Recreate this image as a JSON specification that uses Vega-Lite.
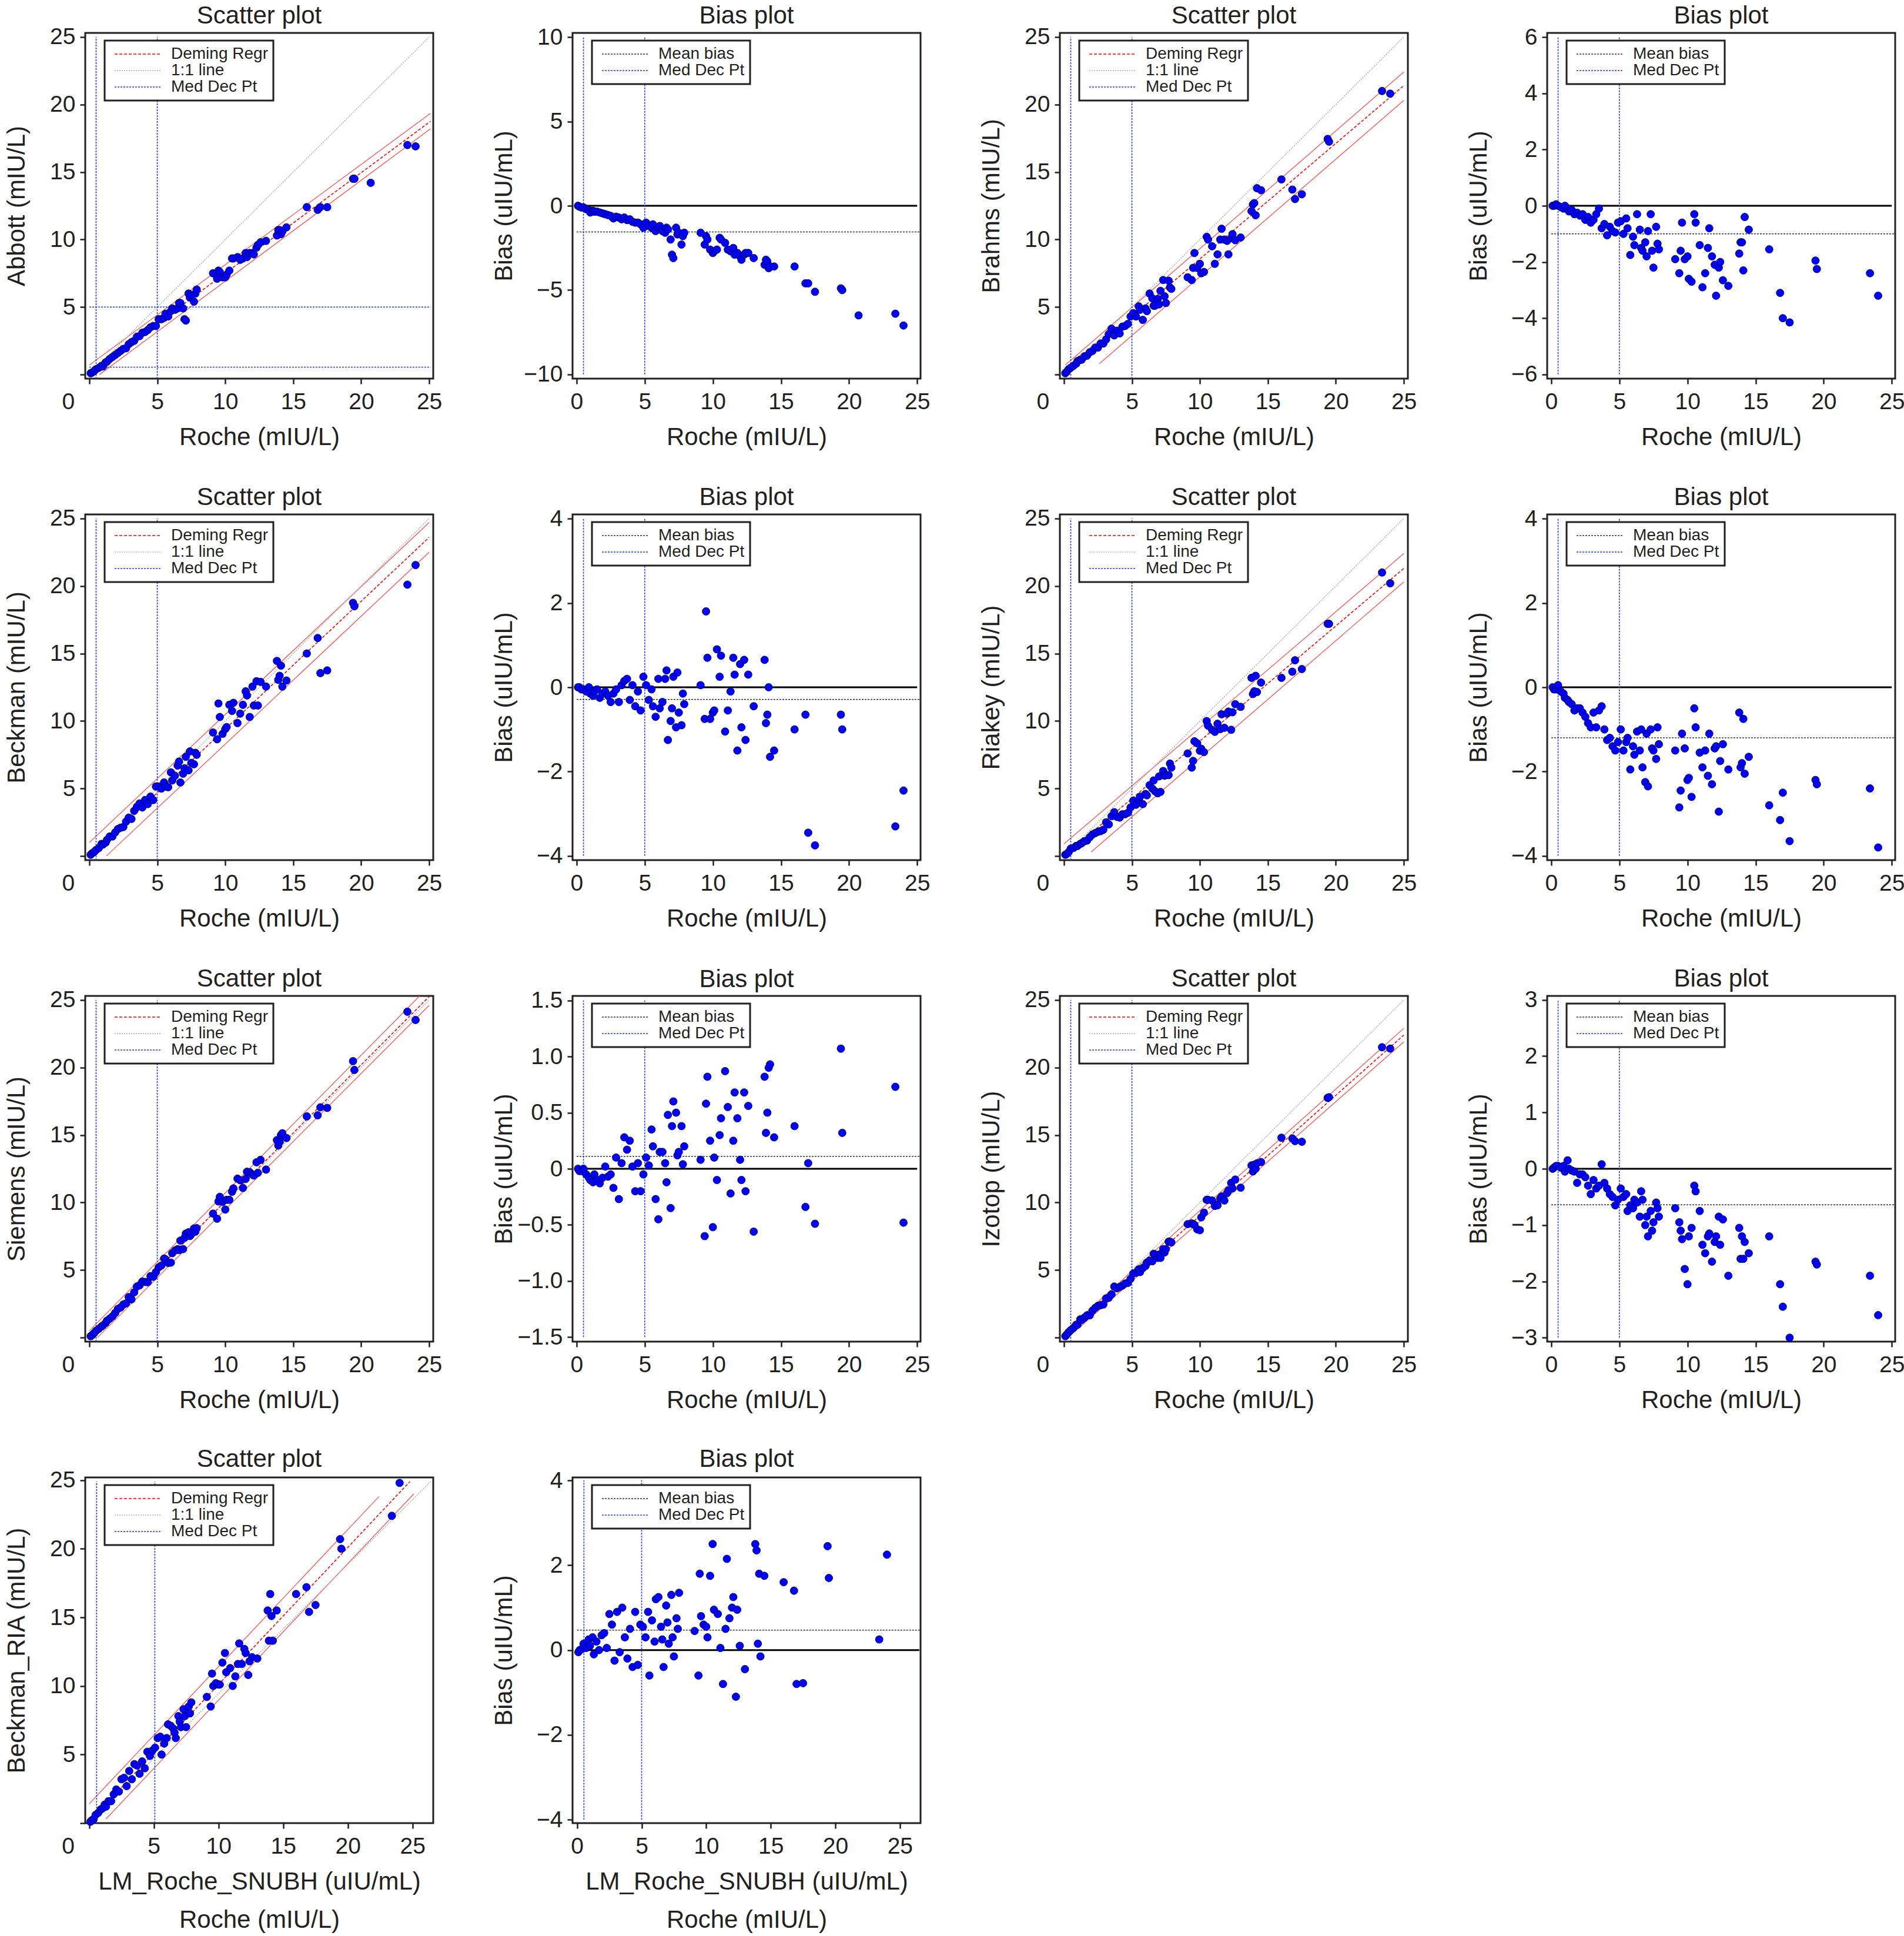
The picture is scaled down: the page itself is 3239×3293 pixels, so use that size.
{
"$schema":"https://vega.github.io/schema/vega-lite/v6.json",
"background":"white",
"padding":{"left":5,"right":5,"top":4,"bottom":5},
"bounds":"flush",
"columns":4,
"spacing":{"row":231,"column":237},
"resolve":{"scale":{"color":"independent","strokeDash":"independent","x":"independent","y":"independent"},"legend":{"color":"independent"}},
"config":{
"font":"Liberation Sans",
"view":{"stroke":"#231f20","strokeWidth":3},
"axis":{"domain":false,"grid":false,"tickColor":"#231f20","tickWidth":2.5,"tickSize":9,"labelFontSize":39,"titleFontSize":42,"titleFontWeight":"normal","labelColor":"#231f20","titleColor":"#231f20","labelFlush":false,"labelOverlap":false,"labelBound":false},
"axisX":{"labelPadding":11,"minExtent":55,"maxExtent":55,"titlePadding":24},
"axisY":{"labelPadding":8,"minExtent":72,"maxExtent":72,"titlePadding":23},
"title":{"fontSize":42,"fontWeight":"normal","offset":-5,"color":"#231f20"},
"legend":{"orient":"none","legendX":33,"legendY":13,"direction":"vertical","strokeColor":"#231f20","strokeWidth":3,"fillColor":"white","padding":9,"labelFontSize":28,"labelLimit":400,"labelColor":"#231f20","symbolType":"M-4,0H4","symbolSize":400,"symbolStrokeWidth":1.5,"symbolDash":[4,2],"symbolOffset":34,"labelOffset":42,"rowPadding":0}
},
"datasets":{
"lines":[
{"p":1,"k":"1:1 line","x":0,"y":0,"x2":25,"y2":25},
{"p":1,"k":"Deming Regr","x":0,"y":0.05,"x2":25.1,"y2":18.75},
{"p":1,"k":"band","x":0,"y":0.7,"x2":25.1,"y2":19.35},
{"p":1,"k":"band","x":0.75,"y":0,"x2":25.1,"y2":18.2},
{"p":1,"k":"Med Dec Pt","x":0.5,"y":-0.3,"x2":0.5,"y2":25},
{"p":1,"k":"Med Dec Pt","x":5,"y":-0.3,"x2":5,"y2":25},
{"p":1,"k":"Med Dec Pt","x":0,"y":5,"x2":25.1,"y2":5},
{"p":1,"k":"Med Dec Pt","x":0,"y":0.55,"x2":25.1,"y2":0.55},
{"p":2,"k":"zero","x":0,"y":0,"x2":25,"y2":0},
{"p":2,"k":"Mean bias","x":0,"y":-1.55,"x2":25.25,"y2":-1.55},
{"p":2,"k":"Med Dec Pt","x":0.5,"y":-10,"x2":0.5,"y2":10},
{"p":2,"k":"Med Dec Pt","x":5,"y":-10,"x2":5,"y2":10},
{"p":3,"k":"1:1 line","x":0,"y":0,"x2":25,"y2":25},
{"p":3,"k":"Deming Regr","x":0,"y":0,"x2":25,"y2":21.4},
{"p":3,"k":"band","x":0.1,"y":0.7,"x2":25,"y2":22.4},
{"p":3,"k":"band","x":2.6,"y":0.8,"x2":25,"y2":20.3},
{"p":3,"k":"Med Dec Pt","x":0.5,"y":-0.3,"x2":0.5,"y2":25},
{"p":3,"k":"Med Dec Pt","x":5,"y":-0.3,"x2":5,"y2":25},
{"p":4,"k":"zero","x":0,"y":0,"x2":25,"y2":0},
{"p":4,"k":"Mean bias","x":0,"y":-1.0,"x2":25.25,"y2":-1.0},
{"p":4,"k":"Med Dec Pt","x":0.5,"y":-6,"x2":0.5,"y2":6},
{"p":4,"k":"Med Dec Pt","x":5,"y":-6,"x2":5,"y2":6},
{"p":5,"k":"1:1 line","x":0,"y":0,"x2":25,"y2":25},
{"p":5,"k":"Deming Regr","x":0,"y":-0.05,"x2":25,"y2":23.6},
{"p":5,"k":"band","x":0,"y":1.0,"x2":25,"y2":24.7},
{"p":5,"k":"band","x":1.25,"y":0,"x2":25,"y2":22.5},
{"p":5,"k":"Med Dec Pt","x":0.5,"y":-0.3,"x2":0.5,"y2":25},
{"p":5,"k":"Med Dec Pt","x":5,"y":-0.3,"x2":5,"y2":25},
{"p":6,"k":"zero","x":0,"y":0,"x2":25,"y2":0},
{"p":6,"k":"Mean bias","x":0,"y":-0.29,"x2":25.25,"y2":-0.29},
{"p":6,"k":"Med Dec Pt","x":0.5,"y":-4,"x2":0.5,"y2":4},
{"p":6,"k":"Med Dec Pt","x":5,"y":-4,"x2":5,"y2":4},
{"p":7,"k":"1:1 line","x":0,"y":0,"x2":25,"y2":25},
{"p":7,"k":"Deming Regr","x":0,"y":0,"x2":25,"y2":21.3},
{"p":7,"k":"band","x":0,"y":0.9,"x2":25,"y2":22.4},
{"p":7,"k":"band","x":2,"y":0.3,"x2":25,"y2":20.3},
{"p":7,"k":"Med Dec Pt","x":0.5,"y":-0.3,"x2":0.5,"y2":25},
{"p":7,"k":"Med Dec Pt","x":5,"y":-0.3,"x2":5,"y2":25},
{"p":8,"k":"zero","x":0,"y":0,"x2":25,"y2":0},
{"p":8,"k":"Mean bias","x":0,"y":-1.2,"x2":25.25,"y2":-1.2},
{"p":8,"k":"Med Dec Pt","x":0.5,"y":-4,"x2":0.5,"y2":4},
{"p":8,"k":"Med Dec Pt","x":5,"y":-4,"x2":5,"y2":4},
{"p":9,"k":"1:1 line","x":0,"y":0,"x2":25,"y2":25},
{"p":9,"k":"Deming Regr","x":0,"y":0,"x2":25,"y2":25.25},
{"p":9,"k":"band","x":0,"y":0.5,"x2":24.3,"y2":25.3},
{"p":9,"k":"band","x":0.6,"y":0,"x2":25,"y2":24.6},
{"p":9,"k":"Med Dec Pt","x":0.5,"y":-0.3,"x2":0.5,"y2":25},
{"p":9,"k":"Med Dec Pt","x":5,"y":-0.3,"x2":5,"y2":25},
{"p":10,"k":"zero","x":0,"y":0,"x2":25,"y2":0},
{"p":10,"k":"Mean bias","x":0,"y":0.11,"x2":25.25,"y2":0.11},
{"p":10,"k":"Med Dec Pt","x":0.5,"y":-1.5,"x2":0.5,"y2":1.5},
{"p":10,"k":"Med Dec Pt","x":5,"y":-1.5,"x2":5,"y2":1.5},
{"p":11,"k":"1:1 line","x":0,"y":0,"x2":25,"y2":25},
{"p":11,"k":"Deming Regr","x":0,"y":0.1,"x2":25,"y2":22.4},
{"p":11,"k":"band","x":0,"y":0.4,"x2":25,"y2":22.9},
{"p":11,"k":"band","x":0.3,"y":0,"x2":25,"y2":21.9},
{"p":11,"k":"Med Dec Pt","x":0.5,"y":-0.3,"x2":0.5,"y2":25},
{"p":11,"k":"Med Dec Pt","x":5,"y":-0.3,"x2":5,"y2":25},
{"p":12,"k":"zero","x":0,"y":0,"x2":25,"y2":0},
{"p":12,"k":"Mean bias","x":0,"y":-0.64,"x2":25.25,"y2":-0.64},
{"p":12,"k":"Med Dec Pt","x":0.5,"y":-3,"x2":0.5,"y2":3},
{"p":12,"k":"Med Dec Pt","x":5,"y":-3,"x2":5,"y2":3},
{"p":13,"k":"1:1 line","x":0,"y":0,"x2":26.4,"y2":24.9},
{"p":13,"k":"Deming Regr","x":0,"y":0.1,"x2":24.8,"y2":24.9},
{"p":13,"k":"band","x":0,"y":1.4,"x2":22.4,"y2":23.8},
{"p":13,"k":"band","x":1.3,"y":0.3,"x2":25.1,"y2":24.0},
{"p":13,"k":"Med Dec Pt","x":0.58,"y":0,"x2":0.58,"y2":24.9},
{"p":13,"k":"Med Dec Pt","x":5.08,"y":0,"x2":5.08,"y2":24.9},
{"p":14,"k":"zero","x":0,"y":0,"x2":26.5,"y2":0},
{"p":14,"k":"Mean bias","x":0,"y":0.47,"x2":26.6,"y2":0.47},
{"p":14,"k":"Med Dec Pt","x":0.53,"y":-4,"x2":0.53,"y2":4},
{"p":14,"k":"Med Dec Pt","x":5,"y":-4,"x2":5,"y2":4}
],
"ab":[
{"x":0.1,"y":0.1,"b":0},{"x":0.2,"y":0.15,"b":-0.05},{"x":0.35,"y":0.25,"b":-0.1},{"x":0.5,"y":0.4,"b":-0.1},{"x":0.7,"y":0.5,"b":-0.2},{"x":0.9,"y":0.65,"b":-0.25},{"x":1.0,"y":0.6,"b":-0.4},{"x":1.2,"y":0.9,"b":-0.3},{"x":1.3,"y":0.95,"b":-0.35},{"x":1.5,"y":1.15,"b":-0.35},
{"x":1.7,"y":1.3,"b":-0.4},{"x":1.9,"y":1.45,"b":-0.45},{"x":2.1,"y":1.6,"b":-0.5},{"x":2.3,"y":1.75,"b":-0.55},{"x":2.5,"y":1.9,"b":-0.6},{"x":2.7,"y":1.95,"b":-0.75},{"x":2.9,"y":2.25,"b":-0.65},{"x":3.1,"y":2.4,"b":-0.7},{"x":3.3,"y":2.5,"b":-0.8},{"x":3.5,"y":2.8,"b":-0.7},
{"x":3.7,"y":2.85,"b":-0.85},{"x":3.9,"y":3.1,"b":-0.8},{"x":4.1,"y":3.15,"b":-0.95},{"x":4.3,"y":3.3,"b":-1.0},{"x":4.5,"y":3.5,"b":-1.0},{"x":4.7,"y":3.6,"b":-1.1},{"x":4.9,"y":3.6,"b":-1.3},{"x":5.1,"y":4.1,"b":-1.0},{"x":5.3,"y":4.1,"b":-1.2},{"x":5.5,"y":4.2,"b":-1.3},
{"x":5.6,"y":4.5,"b":-1.1},{"x":5.8,"y":4.3,"b":-1.5},{"x":6.0,"y":4.7,"b":-1.3},{"x":6.1,"y":4.9,"b":-1.2},{"x":6.3,"y":4.8,"b":-1.5},{"x":6.5,"y":4.9,"b":-1.6},{"x":6.6,"y":5.3,"b":-1.3},{"x":6.7,"y":5.3,"b":-1.4},{"x":6.9,"y":4.9,"b":-2.0},{"x":7.0,"y":4.1,"b":-2.9},
{"x":7.1,"y":4.0,"b":-3.1},{"x":7.3,"y":6.0,"b":-1.3},{"x":7.4,"y":5.7,"b":-1.7},{"x":7.5,"y":5.9,"b":-1.6},{"x":7.7,"y":5.4,"b":-2.3},{"x":7.8,"y":6.0,"b":-1.8},{"x":7.9,"y":6.3,"b":-1.6},
{"x":9.1,"y":7.5,"b":-1.6},{"x":9.4,"y":7.1,"b":-2.3},{"x":9.5,"y":7.7,"b":-1.8},{"x":9.6,"y":7.6,"b":-2.0},{"x":9.8,"y":7.2,"b":-2.6},{"x":10.0,"y":7.2,"b":-2.8},{"x":10.1,"y":7.4,"b":-2.7},{"x":10.3,"y":7.7,"b":-2.6},{"x":10.5,"y":8.6,"b":-1.9},{"x":10.6,"y":8.6,"b":-2.0},
{"x":10.9,"y":8.7,"b":-2.2},{"x":11.1,"y":8.5,"b":-2.6},{"x":11.3,"y":8.6,"b":-2.7},{"x":11.5,"y":9.0,"b":-2.5},{"x":11.6,"y":8.7,"b":-2.9},{"x":11.8,"y":9.0,"b":-2.8},{"x":12.0,"y":9.0,"b":-3.0},{"x":12.1,"y":8.9,"b":-3.2},{"x":12.3,"y":9.4,"b":-2.9},{"x":12.4,"y":9.6,"b":-2.8},
{"x":12.6,"y":9.8,"b":-2.8},{"x":13.0,"y":9.9,"b":-3.1},{"x":13.8,"y":10.3,"b":-3.5},{"x":13.9,"y":10.7,"b":-3.2},{"x":14.0,"y":10.7,"b":-3.3},{"x":14.1,"y":10.4,"b":-3.7},{"x":14.2,"y":10.6,"b":-3.6},{"x":14.5,"y":10.9,"b":-3.6},
{"x":16.0,"y":12.4,"b":-3.6},{"x":16.8,"y":12.2,"b":-4.6},{"x":17.0,"y":12.4,"b":-4.6},{"x":17.5,"y":12.4,"b":-5.1},{"x":19.4,"y":14.5,"b":-4.9},{"x":19.5,"y":14.5,"b":-5.0},{"x":20.7,"y":14.2,"b":-6.5},{"x":23.4,"y":17.0,"b":-6.4},{"x":24.0,"y":16.9,"b":-7.1}
],
"br":[
{"x":0.1,"y":0.1,"b":0},{"x":0.2,"y":0.2,"b":0},{"x":0.35,"y":0.4,"b":0.05},{"x":0.5,"y":0.5,"b":0},{"x":0.7,"y":0.65,"b":-0.05},{"x":0.9,"y":0.8,"b":-0.1},{"x":1.0,"y":1.0,"b":0},{"x":1.2,"y":1.1,"b":-0.1},{"x":1.3,"y":1.1,"b":-0.2},{"x":1.5,"y":1.35,"b":-0.15},
{"x":1.7,"y":1.4,"b":-0.3},{"x":1.9,"y":1.65,"b":-0.25},{"x":2.1,"y":1.75,"b":-0.35},{"x":2.3,"y":2.0,"b":-0.3},{"x":2.5,"y":2.0,"b":-0.5},{"x":2.7,"y":2.3,"b":-0.4},{"x":2.9,"y":2.3,"b":-0.6},{"x":3.1,"y":2.6,"b":-0.5},{"x":3.3,"y":3.0,"b":-0.3},{"x":3.5,"y":3.4,"b":-0.1},
{"x":3.7,"y":2.9,"b":-0.8},{"x":3.9,"y":3.25,"b":-0.65},{"x":4.1,"y":3.05,"b":-1.05},{"x":4.3,"y":3.55,"b":-0.75},{"x":4.5,"y":3.6,"b":-0.9},{"x":4.7,"y":3.75,"b":-0.95},{"x":4.9,"y":4.3,"b":-0.6},{"x":5.1,"y":4.55,"b":-0.55},{"x":5.3,"y":4.3,"b":-1.0},{"x":5.5,"y":5.05,"b":-0.45},
{"x":5.6,"y":4.8,"b":-0.8},{"x":5.8,"y":4.05,"b":-1.75},{"x":6.0,"y":4.9,"b":-1.1},{"x":6.1,"y":4.7,"b":-1.4},{"x":6.3,"y":6.0,"b":-0.3},{"x":6.5,"y":5.65,"b":-0.85},{"x":6.6,"y":5.1,"b":-1.5},{"x":6.7,"y":5.1,"b":-1.6},{"x":6.9,"y":5.6,"b":-1.3},{"x":7.0,"y":5.2,"b":-1.8},
{"x":7.1,"y":6.2,"b":-0.9},{"x":7.3,"y":7.0,"b":-0.3},{"x":7.4,"y":5.8,"b":-1.6},{"x":7.5,"y":5.3,"b":-2.2},{"x":7.7,"y":6.95,"b":-0.75},{"x":7.8,"y":6.45,"b":-1.35},{"x":7.9,"y":6.35,"b":-1.55},
{"x":9.1,"y":7.2,"b":-1.9},{"x":9.4,"y":7.0,"b":-2.4},{"x":9.5,"y":7.9,"b":-1.6},{"x":9.6,"y":9.0,"b":-0.6},{"x":9.8,"y":7.9,"b":-1.9},{"x":10.0,"y":8.2,"b":-1.8},{"x":10.1,"y":7.5,"b":-2.6},{"x":10.3,"y":7.6,"b":-2.7},{"x":10.5,"y":10.2,"b":-0.3},{"x":10.6,"y":10.0,"b":-0.6},
{"x":10.9,"y":9.5,"b":-1.4},{"x":11.1,"y":8.2,"b":-2.9},{"x":11.3,"y":8.9,"b":-2.4},{"x":11.5,"y":10.0,"b":-1.5},{"x":11.6,"y":10.8,"b":-0.8},{"x":11.8,"y":10.0,"b":-1.8},{"x":12.0,"y":9.9,"b":-2.1},{"x":12.1,"y":8.9,"b":-3.2},{"x":12.3,"y":10.1,"b":-2.2},{"x":12.4,"y":10.4,"b":-2.0},
{"x":12.6,"y":9.95,"b":-2.65},{"x":13.0,"y":10.15,"b":-2.85},{"x":13.8,"y":12.1,"b":-1.7},{"x":13.9,"y":12.6,"b":-1.3},{"x":14.0,"y":12.7,"b":-1.3},{"x":14.1,"y":11.8,"b":-2.3},{"x":14.2,"y":13.8,"b":-0.4},{"x":14.5,"y":13.65,"b":-0.85},
{"x":16.0,"y":14.45,"b":-1.55},{"x":16.8,"y":13.7,"b":-3.1},{"x":17.0,"y":13.0,"b":-4.0},{"x":17.5,"y":13.35,"b":-4.15},{"x":19.4,"y":17.45,"b":-1.95},{"x":19.5,"y":17.25,"b":-2.25},{"x":23.4,"y":21.0,"b":-2.4},{"x":24.0,"y":20.8,"b":-3.2}
],
"be":[
{"x":0.1,"y":0.1,"b":0},{"x":0.2,"y":0.2,"b":0},{"x":0.35,"y":0.3,"b":-0.05},{"x":0.5,"y":0.45,"b":-0.05},{"x":0.7,"y":0.6,"b":-0.1},{"x":0.9,"y":0.9,"b":0},{"x":1.0,"y":0.85,"b":-0.15},{"x":1.2,"y":1.0,"b":-0.2},{"x":1.3,"y":1.2,"b":-0.1},{"x":1.5,"y":1.45,"b":-0.05},
{"x":1.7,"y":1.45,"b":-0.25},{"x":1.9,"y":1.75,"b":-0.15},{"x":2.1,"y":2.0,"b":-0.1},{"x":2.3,"y":2.1,"b":-0.2},{"x":2.5,"y":2.15,"b":-0.35},{"x":2.7,"y":2.55,"b":-0.15},{"x":2.9,"y":2.85,"b":-0.05},{"x":3.1,"y":2.75,"b":-0.35},{"x":3.3,"y":3.35,"b":0.05},{"x":3.5,"y":3.65,"b":0.15},
{"x":3.7,"y":3.9,"b":0.2},{"x":3.9,"y":3.6,"b":-0.3},{"x":4.1,"y":4.15,"b":0.05},{"x":4.3,"y":3.85,"b":-0.45},{"x":4.5,"y":4.4,"b":-0.1},{"x":4.7,"y":4.15,"b":-0.55},{"x":4.9,"y":5.15,"b":0.25},{"x":5.1,"y":5.15,"b":0.05},{"x":5.3,"y":5.0,"b":-0.3},{"x":5.5,"y":5.45,"b":-0.05},
{"x":5.6,"y":5.15,"b":-0.45},{"x":5.8,"y":5.1,"b":-0.7},{"x":6.0,"y":6.2,"b":0.2},{"x":6.1,"y":5.6,"b":-0.5},{"x":6.3,"y":5.95,"b":-0.35},{"x":6.5,"y":6.7,"b":0.2},{"x":6.6,"y":7.0,"b":0.4},{"x":6.7,"y":5.45,"b":-1.25},{"x":6.9,"y":6.1,"b":-0.8},{"x":7.0,"y":6.5,"b":-0.5},
{"x":7.1,"y":7.35,"b":0.25},{"x":7.3,"y":6.35,"b":-0.95},{"x":7.4,"y":7.75,"b":0.35},{"x":7.5,"y":6.9,"b":-0.6},{"x":7.7,"y":6.8,"b":-0.9},{"x":7.8,"y":7.65,"b":-0.15},{"x":7.9,"y":7.5,"b":-0.4},
{"x":9.1,"y":9.15,"b":0.05},{"x":9.4,"y":8.65,"b":-0.75},{"x":9.5,"y":11.3,"b":1.8},{"x":9.6,"y":10.3,"b":0.7},{"x":9.8,"y":9.05,"b":-0.75},{"x":10.0,"y":9.4,"b":-0.6},{"x":10.1,"y":9.55,"b":-0.55},{"x":10.3,"y":11.2,"b":0.9},{"x":10.5,"y":10.75,"b":0.25},{"x":10.6,"y":11.35,"b":0.75},
{"x":10.9,"y":9.85,"b":-1.05},{"x":11.1,"y":10.55,"b":-0.55},{"x":11.3,"y":11.2,"b":-0.1},{"x":11.5,"y":12.2,"b":0.7},{"x":11.6,"y":11.9,"b":0.3},{"x":11.8,"y":10.3,"b":-1.5},{"x":12.0,"y":12.55,"b":0.55},{"x":12.1,"y":11.15,"b":-0.95},{"x":12.3,"y":12.95,"b":0.65},{"x":12.4,"y":11.15,"b":-1.25},
{"x":12.6,"y":12.9,"b":0.3},{"x":13.0,"y":12.55,"b":-0.45},{"x":13.8,"y":14.45,"b":0.65},{"x":13.9,"y":13.05,"b":-0.85},{"x":14.0,"y":13.35,"b":-0.65},{"x":14.1,"y":14.1,"b":0},{"x":14.2,"y":12.55,"b":-1.65},{"x":14.5,"y":13.0,"b":-1.5},
{"x":16.0,"y":15.0,"b":-1.0},{"x":16.8,"y":16.15,"b":-0.65},{"x":17.0,"y":13.55,"b":-3.45},{"x":17.5,"y":13.75,"b":-3.75},{"x":19.4,"y":18.75,"b":-0.65},{"x":19.5,"y":18.5,"b":-1.0},{"x":23.4,"y":20.1,"b":-3.3},{"x":24.0,"y":21.55,"b":-2.45}
],
"ri":[
{"x":0.1,"y":0.1,"b":0},{"x":0.2,"y":0.15,"b":-0.05},{"x":0.35,"y":0.3,"b":-0.05},{"x":0.5,"y":0.55,"b":0.05},{"x":0.7,"y":0.6,"b":-0.1},{"x":0.9,"y":0.75,"b":-0.15},{"x":1.0,"y":0.75,"b":-0.25},{"x":1.2,"y":0.9,"b":-0.3},{"x":1.3,"y":0.95,"b":-0.35},{"x":1.5,"y":1.1,"b":-0.4},
{"x":1.7,"y":1.15,"b":-0.55},{"x":1.9,"y":1.4,"b":-0.5},{"x":2.1,"y":1.6,"b":-0.5},{"x":2.3,"y":1.7,"b":-0.6},{"x":2.5,"y":1.8,"b":-0.7},{"x":2.7,"y":1.85,"b":-0.85},{"x":2.9,"y":1.95,"b":-0.95},{"x":3.1,"y":2.5,"b":-0.6},{"x":3.3,"y":2.35,"b":-0.95},{"x":3.5,"y":2.95,"b":-0.55},
{"x":3.7,"y":3.25,"b":-0.45},{"x":3.9,"y":2.9,"b":-1.0},{"x":4.1,"y":2.85,"b":-1.25},{"x":4.3,"y":3.1,"b":-1.2},{"x":4.5,"y":3.1,"b":-1.4},{"x":4.7,"y":3.2,"b":-1.5},{"x":4.9,"y":3.6,"b":-1.3},{"x":5.1,"y":4.1,"b":-1.0},{"x":5.3,"y":3.8,"b":-1.5},{"x":5.5,"y":4.2,"b":-1.3},
{"x":5.6,"y":4.4,"b":-1.2},{"x":5.8,"y":3.85,"b":-1.95},{"x":6.0,"y":4.6,"b":-1.4},{"x":6.1,"y":4.5,"b":-1.6},{"x":6.3,"y":5.25,"b":-1.05},{"x":6.5,"y":5.0,"b":-1.5},{"x":6.6,"y":5.6,"b":-1.0},{"x":6.7,"y":4.8,"b":-1.9},{"x":6.9,"y":4.65,"b":-2.25},{"x":7.0,"y":5.9,"b":-1.1},
{"x":7.1,"y":4.75,"b":-2.35},{"x":7.3,"y":6.3,"b":-1.0},{"x":7.4,"y":5.95,"b":-1.45},{"x":7.5,"y":6.0,"b":-1.5},{"x":7.7,"y":6.0,"b":-1.7},{"x":7.8,"y":6.85,"b":-0.95},{"x":7.9,"y":6.55,"b":-1.35},
{"x":9.1,"y":7.6,"b":-1.5},{"x":9.4,"y":6.55,"b":-2.85},{"x":9.5,"y":7.05,"b":-2.45},{"x":9.6,"y":8.5,"b":-1.1},{"x":9.8,"y":8.35,"b":-1.45},{"x":10.0,"y":7.8,"b":-2.2},{"x":10.1,"y":7.95,"b":-2.15},{"x":10.3,"y":7.7,"b":-2.6},{"x":10.5,"y":10.0,"b":-0.5},{"x":10.6,"y":9.65,"b":-0.95},
{"x":10.9,"y":9.35,"b":-1.55},{"x":11.1,"y":9.2,"b":-1.9},{"x":11.3,"y":9.8,"b":-1.5},{"x":11.5,"y":9.4,"b":-2.1},{"x":11.6,"y":10.5,"b":-1.1},{"x":11.8,"y":9.5,"b":-2.3},{"x":12.0,"y":10.55,"b":-1.45},{"x":12.1,"y":10.7,"b":-1.4},{"x":12.3,"y":9.35,"b":-2.95},{"x":12.4,"y":10.65,"b":-1.75},
{"x":12.6,"y":11.25,"b":-1.35},{"x":13.0,"y":11.05,"b":-1.95},{"x":13.8,"y":13.2,"b":-0.6},{"x":13.9,"y":12.0,"b":-1.9},{"x":14.0,"y":12.2,"b":-1.8},{"x":14.1,"y":13.35,"b":-0.75},{"x":14.2,"y":12.15,"b":-2.05},{"x":14.5,"y":12.85,"b":-1.65},
{"x":16.0,"y":13.2,"b":-2.8},{"x":16.8,"y":13.65,"b":-3.15},{"x":17.0,"y":14.5,"b":-2.5},{"x":17.5,"y":13.85,"b":-3.65},{"x":19.4,"y":17.2,"b":-2.2},{"x":19.5,"y":17.2,"b":-2.3},{"x":23.4,"y":21.0,"b":-2.4},{"x":24.0,"y":20.2,"b":-3.8}
],
"si":[
{"x":0.1,"y":0.1,"b":0},{"x":0.2,"y":0.18,"b":-0.02},{"x":0.35,"y":0.33,"b":-0.02},{"x":0.5,"y":0.5,"b":0},{"x":0.7,"y":0.65,"b":-0.05},{"x":0.9,"y":0.82,"b":-0.08},{"x":1.0,"y":0.9,"b":-0.1},{"x":1.2,"y":1.08,"b":-0.12},{"x":1.3,"y":1.25,"b":-0.05},{"x":1.5,"y":1.4,"b":-0.1},
{"x":1.7,"y":1.57,"b":-0.13},{"x":1.9,"y":1.82,"b":-0.08},{"x":2.1,"y":2.12,"b":0.02},{"x":2.3,"y":2.23,"b":-0.07},{"x":2.5,"y":2.45,"b":-0.05},{"x":2.7,"y":2.53,"b":-0.17},{"x":2.9,"y":3.0,"b":0.1},{"x":3.1,"y":2.83,"b":-0.27},{"x":3.3,"y":3.35,"b":0.05},{"x":3.5,"y":3.78,"b":0.28},
{"x":3.7,"y":3.87,"b":0.17},{"x":3.9,"y":4.15,"b":0.25},{"x":4.1,"y":4.12,"b":0.02},{"x":4.3,"y":4.1,"b":-0.2},{"x":4.5,"y":4.55,"b":0.05},{"x":4.7,"y":4.5,"b":-0.2},{"x":4.9,"y":4.85,"b":-0.05},{"x":5.1,"y":5.2,"b":0.1},{"x":5.3,"y":5.33,"b":0.03},{"x":5.5,"y":5.85,"b":0.35},
{"x":5.6,"y":5.8,"b":0.2},{"x":5.8,"y":5.53,"b":-0.27},{"x":6.0,"y":5.55,"b":-0.45},{"x":6.1,"y":6.25,"b":0.15},{"x":6.3,"y":6.45,"b":0.15},{"x":6.5,"y":6.55,"b":0.05},{"x":6.6,"y":6.48,"b":-0.12},{"x":6.7,"y":7.18,"b":0.48},{"x":6.9,"y":6.55,"b":-0.35},{"x":7.0,"y":7.38,"b":0.38},
{"x":7.1,"y":7.7,"b":0.6},{"x":7.3,"y":7.8,"b":0.5},{"x":7.4,"y":7.52,"b":0.12},{"x":7.5,"y":7.65,"b":0.15},{"x":7.7,"y":8.08,"b":0.38},{"x":7.8,"y":7.84,"b":0.04},{"x":7.9,"y":8.1,"b":0.2},
{"x":9.1,"y":9.18,"b":0.08},{"x":9.4,"y":8.8,"b":-0.6},{"x":9.5,"y":10.08,"b":0.58},{"x":9.6,"y":10.42,"b":0.82},{"x":9.8,"y":10.05,"b":0.25},{"x":10.0,"y":9.48,"b":-0.52},{"x":10.1,"y":10.2,"b":0.1},{"x":10.3,"y":10.2,"b":-0.1},{"x":10.5,"y":10.8,"b":0.3},{"x":10.6,"y":11.05,"b":0.45},
{"x":10.9,"y":11.77,"b":0.87},{"x":11.1,"y":11.65,"b":0.55},{"x":11.3,"y":11.08,"b":-0.22},{"x":11.5,"y":11.75,"b":0.25},{"x":11.6,"y":12.28,"b":0.68},{"x":11.8,"y":12.25,"b":0.45},{"x":12.0,"y":12.08,"b":0.08},{"x":12.1,"y":12.0,"b":-0.1},{"x":12.3,"y":12.98,"b":0.68},{"x":12.4,"y":12.2,"b":-0.2},
{"x":12.6,"y":13.16,"b":0.56},{"x":13.0,"y":12.44,"b":-0.56},{"x":13.8,"y":14.62,"b":0.82},{"x":13.9,"y":14.22,"b":0.32},{"x":14.0,"y":14.5,"b":0.5},{"x":14.1,"y":15.0,"b":0.9},{"x":14.2,"y":15.13,"b":0.93},{"x":14.5,"y":14.78,"b":0.28},
{"x":16.0,"y":16.38,"b":0.38},{"x":16.8,"y":16.46,"b":-0.34},{"x":17.0,"y":17.05,"b":0.05},{"x":17.5,"y":17.01,"b":-0.49},{"x":19.4,"y":20.47,"b":1.07},{"x":19.5,"y":19.82,"b":0.32},{"x":23.4,"y":24.13,"b":0.73},{"x":24.0,"y":23.52,"b":-0.48}
],
"iz":[
{"x":0.1,"y":0.1,"b":0},{"x":0.2,"y":0.22,"b":0.02},{"x":0.35,"y":0.4,"b":0.05},{"x":0.5,"y":0.55,"b":0.05},{"x":0.7,"y":0.72,"b":0.02},{"x":0.9,"y":0.95,"b":0.05},{"x":1.0,"y":0.95,"b":-0.05},{"x":1.2,"y":1.35,"b":0.15},{"x":1.3,"y":1.3,"b":0},{"x":1.5,"y":1.47,"b":-0.03},
{"x":1.7,"y":1.65,"b":-0.05},{"x":1.9,"y":1.65,"b":-0.25},{"x":2.1,"y":2.0,"b":-0.1},{"x":2.3,"y":2.2,"b":-0.1},{"x":2.5,"y":2.35,"b":-0.15},{"x":2.7,"y":2.4,"b":-0.3},{"x":2.9,"y":2.45,"b":-0.45},{"x":3.1,"y":2.9,"b":-0.2},{"x":3.3,"y":2.95,"b":-0.35},{"x":3.5,"y":3.2,"b":-0.3},
{"x":3.7,"y":3.78,"b":0.08},{"x":3.9,"y":3.65,"b":-0.25},{"x":4.1,"y":3.75,"b":-0.35},{"x":4.3,"y":3.85,"b":-0.45},{"x":4.5,"y":4.0,"b":-0.5},{"x":4.7,"y":4.05,"b":-0.65},{"x":4.9,"y":4.35,"b":-0.55},{"x":5.1,"y":4.75,"b":-0.35},{"x":5.3,"y":4.8,"b":-0.5},{"x":5.5,"y":5.05,"b":-0.45},
{"x":5.6,"y":4.85,"b":-0.75},{"x":5.8,"y":5.15,"b":-0.65},{"x":6.0,"y":5.3,"b":-0.7},{"x":6.1,"y":5.55,"b":-0.55},{"x":6.3,"y":5.7,"b":-0.6},{"x":6.5,"y":5.65,"b":-0.85},{"x":6.6,"y":6.2,"b":-0.4},{"x":6.7,"y":6.15,"b":-0.55},{"x":6.9,"y":5.9,"b":-1.0},{"x":7.0,"y":6.15,"b":-0.85},
{"x":7.1,"y":5.9,"b":-1.2},{"x":7.3,"y":6.55,"b":-0.75},{"x":7.4,"y":6.3,"b":-1.1},{"x":7.5,"y":6.55,"b":-0.95},{"x":7.7,"y":7.1,"b":-0.6},{"x":7.8,"y":7.1,"b":-0.7},{"x":7.9,"y":7.05,"b":-0.85},
{"x":9.1,"y":8.4,"b":-0.7},{"x":9.4,"y":8.45,"b":-0.95},{"x":9.5,"y":8.4,"b":-1.1},{"x":9.6,"y":8.35,"b":-1.25},{"x":9.8,"y":8.02,"b":-1.78},{"x":10.0,"y":7.95,"b":-2.05},{"x":10.1,"y":8.9,"b":-1.2},{"x":10.3,"y":9.25,"b":-1.05},{"x":10.5,"y":10.2,"b":-0.3},{"x":10.6,"y":10.2,"b":-0.4},
{"x":10.9,"y":10.15,"b":-0.75},{"x":11.1,"y":9.75,"b":-1.35},{"x":11.3,"y":9.8,"b":-1.5},{"x":11.5,"y":10.3,"b":-1.2},{"x":11.6,"y":10.45,"b":-1.15},{"x":11.8,"y":10.15,"b":-1.65},{"x":12.0,"y":10.7,"b":-1.3},{"x":12.1,"y":10.9,"b":-1.2},{"x":12.3,"y":11.45,"b":-0.85},{"x":12.4,"y":11.05,"b":-1.35},
{"x":12.6,"y":11.7,"b":-0.9},{"x":13.0,"y":11.1,"b":-1.9},{"x":13.8,"y":12.75,"b":-1.05},{"x":13.9,"y":12.3,"b":-1.6},{"x":14.0,"y":12.8,"b":-1.2},{"x":14.1,"y":12.5,"b":-1.6},{"x":14.2,"y":12.9,"b":-1.3},{"x":14.5,"y":13.0,"b":-1.5},
{"x":16.0,"y":14.8,"b":-1.2},{"x":16.8,"y":14.75,"b":-2.05},{"x":17.0,"y":14.55,"b":-2.45},{"x":17.5,"y":14.5,"b":-3.0},{"x":19.4,"y":17.75,"b":-1.65},{"x":19.5,"y":17.8,"b":-1.7},{"x":23.4,"y":21.5,"b":-1.9},{"x":24.0,"y":21.4,"b":-2.6}
],
"ria":[
{"x":0.1,"y":0.1,"b":-0.05},{"x":0.2,"y":0.2,"b":0},{"x":0.35,"y":0.3,"b":0.02},{"x":0.5,"y":0.6,"b":0.15},{"x":0.7,"y":0.75,"b":0.05},{"x":0.9,"y":1.0,"b":0.25},{"x":1.0,"y":1.05,"b":0.1},{"x":1.2,"y":1.35,"b":0.3},{"x":1.3,"y":1.2,"b":-0.1},{"x":1.5,"y":1.6,"b":0.2},
{"x":1.7,"y":1.6,"b":0},{"x":1.9,"y":2.1,"b":0.35},{"x":2.1,"y":2.45,"b":0.4},{"x":2.3,"y":2.3,"b":0.05},{"x":2.5,"y":3.2,"b":0.85},{"x":2.7,"y":3.3,"b":0.6},{"x":2.9,"y":2.7,"b":-0.25},{"x":3.1,"y":3.8,"b":0.9},{"x":3.3,"y":3.2,"b":-0.05},{"x":3.5,"y":4.3,"b":1.0},
{"x":3.7,"y":4.2,"b":0.3},{"x":3.9,"y":3.6,"b":-0.2},{"x":4.1,"y":4.5,"b":0.5},{"x":4.3,"y":4.0,"b":-0.4},{"x":4.5,"y":5.2,"b":0.9},{"x":4.7,"y":4.9,"b":-0.35},{"x":4.9,"y":5.3,"b":0.6},{"x":5.1,"y":5.5,"b":0.55},{"x":5.3,"y":6.2,"b":0.3},{"x":5.5,"y":6.3,"b":0.9},
{"x":5.6,"y":5.0,"b":-0.6},{"x":5.8,"y":5.8,"b":0.7},{"x":6.0,"y":6.2,"b":0.2},{"x":6.1,"y":7.2,"b":1.2},{"x":6.3,"y":7.1,"b":1.25},{"x":6.5,"y":6.9,"b":0.55},{"x":6.6,"y":6.6,"b":0.25},{"x":6.7,"y":6.2,"b":-0.4},{"x":6.9,"y":7.8,"b":1.05},{"x":7.0,"y":7.4,"b":0.65},
{"x":7.1,"y":7.0,"b":0.15},{"x":7.3,"y":8.3,"b":1.3},{"x":7.4,"y":7.8,"b":0.3},{"x":7.5,"y":7.0,"b":-0.15},{"x":7.7,"y":8.5,"b":0.75},{"x":7.8,"y":8.0,"b":0.5},{"x":7.9,"y":8.8,"b":1.35},
{"x":9.1,"y":9.2,"b":0.45},{"x":9.4,"y":8.5,"b":-0.6},{"x":9.5,"y":10.9,"b":1.8},{"x":9.6,"y":10.0,"b":0.8},{"x":9.8,"y":10.2,"b":0.6},{"x":10.0,"y":10.1,"b":0.55},{"x":10.1,"y":10.1,"b":0.3},{"x":10.3,"y":11.7,"b":1.75},{"x":10.5,"y":12.4,"b":2.5},{"x":10.6,"y":11.0,"b":0.95},
{"x":10.9,"y":11.3,"b":0.85},{"x":11.1,"y":10.0,"b":0.05},{"x":11.3,"y":10.7,"b":-0.8},{"x":11.5,"y":11.6,"b":0.5},{"x":11.6,"y":13.1,"b":2.15},{"x":11.8,"y":11.6,"b":0.75},{"x":12.0,"y":12.7,"b":1.0},{"x":12.1,"y":12.4,"b":1.25},{"x":12.3,"y":10.8,"b":-1.1},{"x":12.4,"y":11.8,"b":0.95},
{"x":12.6,"y":12.1,"b":0.1},{"x":13.0,"y":12.0,"b":-0.45},{"x":13.8,"y":15.5,"b":2.5},{"x":13.9,"y":13.3,"b":2.35},{"x":14.0,"y":16.7,"b":0.15},{"x":14.1,"y":15.1,"b":1.8},{"x":14.2,"y":13.3,"b":-0.15},{"x":14.5,"y":15.5,"b":1.75},
{"x":16.0,"y":16.7,"b":1.6},{"x":16.8,"y":17.2,"b":1.4},{"x":17.0,"y":15.4,"b":-0.8},{"x":17.5,"y":15.9,"b":-0.78},{"x":19.4,"y":20.7,"b":2.45},{"x":19.5,"y":20.0,"b":1.7},{"x":23.4,"y":22.4,"b":0.25},{"x":24.0,"y":24.8,"b":2.25}
]
},
"concat":[
{"title":"Scatter plot","width":592,"height":588,"layer":[
{"data":{"name":"lines"},"transform":[{"filter":"datum.p===1 && datum.k==='band'"}],"mark":{"type":"rule","color":"#ff5050","strokeWidth":1.3,"clip":true},"encoding":{"x":{"field":"x","type":"quantitative"},"y":{"field":"y","type":"quantitative"},"x2":{"field":"x2"},"y2":{"field":"y2"}}},
{"data":{"name":"lines"},"transform":[{"filter":"datum.p===1 && datum.k!=='band'"}],"mark":{"type":"rule","strokeWidth":1.6,"clip":true},"encoding":{"x":{"field":"x","type":"quantitative"},"y":{"field":"y","type":"quantitative"},"x2":{"field":"x2"},"y2":{"field":"y2"},"color":{"field":"k","type":"nominal","scale":{"domain":["Deming Regr","1:1 line","Med Dec Pt"],"range":["#ff0000","#b0b0b0","#1f3dff"]},"legend":{"title":null}},"strokeDash":{"field":"k","type":"nominal","scale":{"domain":["Deming Regr","1:1 line","Med Dec Pt"],"range":[[5,3],[2,2],[3,2]]},"legend":null}}},
{"data":{"name":"ab"},"mark":{"type":"circle","size":170,"fill":"#0000ff","stroke":"#00002a","strokeWidth":0.8,"opacity":1},"encoding":{"x":{"field":"x","type":"quantitative","scale":{"domain":[-0.3,25.3],"nice":false,"zero":false},"axis":{"values":[0,5,10,15,20,25],"title":"Roche (mIU/L)","labelOffset":{"condition":{"test":"datum.value === 0","value":-36},"value":0}}},"y":{"field":"y","type":"quantitative","scale":{"domain":[-0.3,25.3],"nice":false,"zero":false},"axis":{"values":[0,5,10,15,20,25],"labelExpr":"datum.value === 0 ? '' : datum.label","title":"Abbott (mIU/L)"}}}}
]},
{"title":"Bias plot","width":592,"height":588,"layer":[
{"data":{"name":"lines"},"transform":[{"filter":"datum.p===2 && datum.k==='zero'"}],"mark":{"type":"rule","color":"#000000","strokeWidth":3,"clip":true},"encoding":{"x":{"field":"x","type":"quantitative"},"y":{"field":"y","type":"quantitative"},"x2":{"field":"x2"},"y2":{"field":"y2"}}},
{"data":{"name":"lines"},"transform":[{"filter":"datum.p===2 && datum.k!=='zero'"}],"mark":{"type":"rule","strokeWidth":1.6,"clip":true},"encoding":{"x":{"field":"x","type":"quantitative"},"y":{"field":"y","type":"quantitative"},"x2":{"field":"x2"},"y2":{"field":"y2"},"color":{"field":"k","type":"nominal","scale":{"domain":["Mean bias","Med Dec Pt"],"range":["#333333","#1f3dff"]},"legend":{"title":null}},"strokeDash":{"field":"k","type":"nominal","scale":{"domain":["Mean bias","Med Dec Pt"],"range":[[3,2],[3,2]]},"legend":null}}},
{"data":{"name":"ab"},"mark":{"type":"circle","size":170,"fill":"#0000ff","stroke":"#00002a","strokeWidth":0.8,"opacity":1},"encoding":{"x":{"field":"x","type":"quantitative","scale":{"domain":[-0.3,25.25],"nice":false,"zero":false},"axis":{"values":[0,5,10,15,20,25],"title":"Roche (mIU/L)"}},"y":{"field":"b","type":"quantitative","scale":{"domain":[-10.25,10.25],"nice":false,"zero":false},"axis":{"values":[-10,-5,0,5,10],"format":"d","title":"Bias (uIU/mL)"}}}}
]},
{"title":"Scatter plot","width":592,"height":588,"layer":[
{"data":{"name":"lines"},"transform":[{"filter":"datum.p===3 && datum.k==='band'"}],"mark":{"type":"rule","color":"#ff5050","strokeWidth":1.3,"clip":true},"encoding":{"x":{"field":"x","type":"quantitative"},"y":{"field":"y","type":"quantitative"},"x2":{"field":"x2"},"y2":{"field":"y2"}}},
{"data":{"name":"lines"},"transform":[{"filter":"datum.p===3 && datum.k!=='band'"}],"mark":{"type":"rule","strokeWidth":1.6,"clip":true},"encoding":{"x":{"field":"x","type":"quantitative"},"y":{"field":"y","type":"quantitative"},"x2":{"field":"x2"},"y2":{"field":"y2"},"color":{"field":"k","type":"nominal","scale":{"domain":["Deming Regr","1:1 line","Med Dec Pt"],"range":["#ff0000","#b0b0b0","#1f3dff"]},"legend":{"title":null}},"strokeDash":{"field":"k","type":"nominal","scale":{"domain":["Deming Regr","1:1 line","Med Dec Pt"],"range":[[5,3],[2,2],[3,2]]},"legend":null}}},
{"data":{"name":"br"},"mark":{"type":"circle","size":170,"fill":"#0000ff","stroke":"#00002a","strokeWidth":0.8,"opacity":1},"encoding":{"x":{"field":"x","type":"quantitative","scale":{"domain":[-0.3,25.3],"nice":false,"zero":false},"axis":{"values":[0,5,10,15,20,25],"title":"Roche (mIU/L)","labelOffset":{"condition":{"test":"datum.value === 0","value":-36},"value":0}}},"y":{"field":"y","type":"quantitative","scale":{"domain":[-0.3,25.3],"nice":false,"zero":false},"axis":{"values":[0,5,10,15,20,25],"labelExpr":"datum.value === 0 ? '' : datum.label","title":"Brahms (mIU/L)"}}}}
]},
{"title":"Bias plot","width":592,"height":588,"layer":[
{"data":{"name":"lines"},"transform":[{"filter":"datum.p===4 && datum.k==='zero'"}],"mark":{"type":"rule","color":"#000000","strokeWidth":3,"clip":true},"encoding":{"x":{"field":"x","type":"quantitative"},"y":{"field":"y","type":"quantitative"},"x2":{"field":"x2"},"y2":{"field":"y2"}}},
{"data":{"name":"lines"},"transform":[{"filter":"datum.p===4 && datum.k!=='zero'"}],"mark":{"type":"rule","strokeWidth":1.6,"clip":true},"encoding":{"x":{"field":"x","type":"quantitative"},"y":{"field":"y","type":"quantitative"},"x2":{"field":"x2"},"y2":{"field":"y2"},"color":{"field":"k","type":"nominal","scale":{"domain":["Mean bias","Med Dec Pt"],"range":["#333333","#1f3dff"]},"legend":{"title":null}},"strokeDash":{"field":"k","type":"nominal","scale":{"domain":["Mean bias","Med Dec Pt"],"range":[[3,2],[3,2]]},"legend":null}}},
{"data":{"name":"br"},"mark":{"type":"circle","size":170,"fill":"#0000ff","stroke":"#00002a","strokeWidth":0.8,"opacity":1},"encoding":{"x":{"field":"x","type":"quantitative","scale":{"domain":[-0.3,25.25],"nice":false,"zero":false},"axis":{"values":[0,5,10,15,20,25],"title":"Roche (mIU/L)"}},"y":{"field":"b","type":"quantitative","scale":{"domain":[-6.15,6.15],"nice":false,"zero":false},"axis":{"values":[-6,-4,-2,0,2,4,6],"format":"d","title":"Bias (uIU/mL)"}}}}
]},
{"title":"Scatter plot","width":592,"height":588,"layer":[
{"data":{"name":"lines"},"transform":[{"filter":"datum.p===5 && datum.k==='band'"}],"mark":{"type":"rule","color":"#ff5050","strokeWidth":1.3,"clip":true},"encoding":{"x":{"field":"x","type":"quantitative"},"y":{"field":"y","type":"quantitative"},"x2":{"field":"x2"},"y2":{"field":"y2"}}},
{"data":{"name":"lines"},"transform":[{"filter":"datum.p===5 && datum.k!=='band'"}],"mark":{"type":"rule","strokeWidth":1.6,"clip":true},"encoding":{"x":{"field":"x","type":"quantitative"},"y":{"field":"y","type":"quantitative"},"x2":{"field":"x2"},"y2":{"field":"y2"},"color":{"field":"k","type":"nominal","scale":{"domain":["Deming Regr","1:1 line","Med Dec Pt"],"range":["#ff0000","#b0b0b0","#1f3dff"]},"legend":{"title":null}},"strokeDash":{"field":"k","type":"nominal","scale":{"domain":["Deming Regr","1:1 line","Med Dec Pt"],"range":[[5,3],[2,2],[3,2]]},"legend":null}}},
{"data":{"name":"be"},"mark":{"type":"circle","size":170,"fill":"#0000ff","stroke":"#00002a","strokeWidth":0.8,"opacity":1},"encoding":{"x":{"field":"x","type":"quantitative","scale":{"domain":[-0.3,25.3],"nice":false,"zero":false},"axis":{"values":[0,5,10,15,20,25],"title":"Roche (mIU/L)","labelOffset":{"condition":{"test":"datum.value === 0","value":-36},"value":0}}},"y":{"field":"y","type":"quantitative","scale":{"domain":[-0.3,25.3],"nice":false,"zero":false},"axis":{"values":[0,5,10,15,20,25],"labelExpr":"datum.value === 0 ? '' : datum.label","title":"Beckman (mIU/L)"}}}}
]},
{"title":"Bias plot","width":592,"height":588,"layer":[
{"data":{"name":"lines"},"transform":[{"filter":"datum.p===6 && datum.k==='zero'"}],"mark":{"type":"rule","color":"#000000","strokeWidth":3,"clip":true},"encoding":{"x":{"field":"x","type":"quantitative"},"y":{"field":"y","type":"quantitative"},"x2":{"field":"x2"},"y2":{"field":"y2"}}},
{"data":{"name":"lines"},"transform":[{"filter":"datum.p===6 && datum.k!=='zero'"}],"mark":{"type":"rule","strokeWidth":1.6,"clip":true},"encoding":{"x":{"field":"x","type":"quantitative"},"y":{"field":"y","type":"quantitative"},"x2":{"field":"x2"},"y2":{"field":"y2"},"color":{"field":"k","type":"nominal","scale":{"domain":["Mean bias","Med Dec Pt"],"range":["#333333","#1f3dff"]},"legend":{"title":null}},"strokeDash":{"field":"k","type":"nominal","scale":{"domain":["Mean bias","Med Dec Pt"],"range":[[3,2],[3,2]]},"legend":null}}},
{"data":{"name":"be"},"mark":{"type":"circle","size":170,"fill":"#0000ff","stroke":"#00002a","strokeWidth":0.8,"opacity":1},"encoding":{"x":{"field":"x","type":"quantitative","scale":{"domain":[-0.3,25.25],"nice":false,"zero":false},"axis":{"values":[0,5,10,15,20,25],"title":"Roche (mIU/L)"}},"y":{"field":"b","type":"quantitative","scale":{"domain":[-4.1,4.1],"nice":false,"zero":false},"axis":{"values":[-4,-2,0,2,4],"format":"d","title":"Bias (uIU/mL)"}}}}
]},
{"title":"Scatter plot","width":592,"height":588,"layer":[
{"data":{"name":"lines"},"transform":[{"filter":"datum.p===7 && datum.k==='band'"}],"mark":{"type":"rule","color":"#ff5050","strokeWidth":1.3,"clip":true},"encoding":{"x":{"field":"x","type":"quantitative"},"y":{"field":"y","type":"quantitative"},"x2":{"field":"x2"},"y2":{"field":"y2"}}},
{"data":{"name":"lines"},"transform":[{"filter":"datum.p===7 && datum.k!=='band'"}],"mark":{"type":"rule","strokeWidth":1.6,"clip":true},"encoding":{"x":{"field":"x","type":"quantitative"},"y":{"field":"y","type":"quantitative"},"x2":{"field":"x2"},"y2":{"field":"y2"},"color":{"field":"k","type":"nominal","scale":{"domain":["Deming Regr","1:1 line","Med Dec Pt"],"range":["#ff0000","#b0b0b0","#1f3dff"]},"legend":{"title":null}},"strokeDash":{"field":"k","type":"nominal","scale":{"domain":["Deming Regr","1:1 line","Med Dec Pt"],"range":[[5,3],[2,2],[3,2]]},"legend":null}}},
{"data":{"name":"ri"},"mark":{"type":"circle","size":170,"fill":"#0000ff","stroke":"#00002a","strokeWidth":0.8,"opacity":1},"encoding":{"x":{"field":"x","type":"quantitative","scale":{"domain":[-0.3,25.3],"nice":false,"zero":false},"axis":{"values":[0,5,10,15,20,25],"title":"Roche (mIU/L)","labelOffset":{"condition":{"test":"datum.value === 0","value":-36},"value":0}}},"y":{"field":"y","type":"quantitative","scale":{"domain":[-0.3,25.3],"nice":false,"zero":false},"axis":{"values":[0,5,10,15,20,25],"labelExpr":"datum.value === 0 ? '' : datum.label","title":"Riakey (mIU/L)"}}}}
]},
{"title":"Bias plot","width":592,"height":588,"layer":[
{"data":{"name":"lines"},"transform":[{"filter":"datum.p===8 && datum.k==='zero'"}],"mark":{"type":"rule","color":"#000000","strokeWidth":3,"clip":true},"encoding":{"x":{"field":"x","type":"quantitative"},"y":{"field":"y","type":"quantitative"},"x2":{"field":"x2"},"y2":{"field":"y2"}}},
{"data":{"name":"lines"},"transform":[{"filter":"datum.p===8 && datum.k!=='zero'"}],"mark":{"type":"rule","strokeWidth":1.6,"clip":true},"encoding":{"x":{"field":"x","type":"quantitative"},"y":{"field":"y","type":"quantitative"},"x2":{"field":"x2"},"y2":{"field":"y2"},"color":{"field":"k","type":"nominal","scale":{"domain":["Mean bias","Med Dec Pt"],"range":["#333333","#1f3dff"]},"legend":{"title":null}},"strokeDash":{"field":"k","type":"nominal","scale":{"domain":["Mean bias","Med Dec Pt"],"range":[[3,2],[3,2]]},"legend":null}}},
{"data":{"name":"ri"},"mark":{"type":"circle","size":170,"fill":"#0000ff","stroke":"#00002a","strokeWidth":0.8,"opacity":1},"encoding":{"x":{"field":"x","type":"quantitative","scale":{"domain":[-0.3,25.25],"nice":false,"zero":false},"axis":{"values":[0,5,10,15,20,25],"title":"Roche (mIU/L)"}},"y":{"field":"b","type":"quantitative","scale":{"domain":[-4.1,4.1],"nice":false,"zero":false},"axis":{"values":[-4,-2,0,2,4],"format":"d","title":"Bias (uIU/mL)"}}}}
]},
{"title":"Scatter plot","width":592,"height":588,"layer":[
{"data":{"name":"lines"},"transform":[{"filter":"datum.p===9 && datum.k==='band'"}],"mark":{"type":"rule","color":"#ff5050","strokeWidth":1.3,"clip":true},"encoding":{"x":{"field":"x","type":"quantitative"},"y":{"field":"y","type":"quantitative"},"x2":{"field":"x2"},"y2":{"field":"y2"}}},
{"data":{"name":"lines"},"transform":[{"filter":"datum.p===9 && datum.k!=='band'"}],"mark":{"type":"rule","strokeWidth":1.6,"clip":true},"encoding":{"x":{"field":"x","type":"quantitative"},"y":{"field":"y","type":"quantitative"},"x2":{"field":"x2"},"y2":{"field":"y2"},"color":{"field":"k","type":"nominal","scale":{"domain":["Deming Regr","1:1 line","Med Dec Pt"],"range":["#ff0000","#b0b0b0","#1f3dff"]},"legend":{"title":null}},"strokeDash":{"field":"k","type":"nominal","scale":{"domain":["Deming Regr","1:1 line","Med Dec Pt"],"range":[[5,3],[2,2],[3,2]]},"legend":null}}},
{"data":{"name":"si"},"mark":{"type":"circle","size":170,"fill":"#0000ff","stroke":"#00002a","strokeWidth":0.8,"opacity":1},"encoding":{"x":{"field":"x","type":"quantitative","scale":{"domain":[-0.3,25.3],"nice":false,"zero":false},"axis":{"values":[0,5,10,15,20,25],"title":"Roche (mIU/L)","labelOffset":{"condition":{"test":"datum.value === 0","value":-36},"value":0}}},"y":{"field":"y","type":"quantitative","scale":{"domain":[-0.3,25.3],"nice":false,"zero":false},"axis":{"values":[0,5,10,15,20,25],"labelExpr":"datum.value === 0 ? '' : datum.label","title":"Siemens (mIU/L)"}}}}
]},
{"title":"Bias plot","width":592,"height":588,"layer":[
{"data":{"name":"lines"},"transform":[{"filter":"datum.p===10 && datum.k==='zero'"}],"mark":{"type":"rule","color":"#000000","strokeWidth":3,"clip":true},"encoding":{"x":{"field":"x","type":"quantitative"},"y":{"field":"y","type":"quantitative"},"x2":{"field":"x2"},"y2":{"field":"y2"}}},
{"data":{"name":"lines"},"transform":[{"filter":"datum.p===10 && datum.k!=='zero'"}],"mark":{"type":"rule","strokeWidth":1.6,"clip":true},"encoding":{"x":{"field":"x","type":"quantitative"},"y":{"field":"y","type":"quantitative"},"x2":{"field":"x2"},"y2":{"field":"y2"},"color":{"field":"k","type":"nominal","scale":{"domain":["Mean bias","Med Dec Pt"],"range":["#333333","#1f3dff"]},"legend":{"title":null}},"strokeDash":{"field":"k","type":"nominal","scale":{"domain":["Mean bias","Med Dec Pt"],"range":[[3,2],[3,2]]},"legend":null}}},
{"data":{"name":"si"},"mark":{"type":"circle","size":170,"fill":"#0000ff","stroke":"#00002a","strokeWidth":0.8,"opacity":1},"encoding":{"x":{"field":"x","type":"quantitative","scale":{"domain":[-0.3,25.25],"nice":false,"zero":false},"axis":{"values":[0,5,10,15,20,25],"title":"Roche (mIU/L)"}},"y":{"field":"b","type":"quantitative","scale":{"domain":[-1.54,1.54],"nice":false,"zero":false},"axis":{"values":[-1.5,-1,-0.5,0,0.5,1,1.5],"format":".1f","labelExpr":"datum.value === 0 ? '0' : datum.label","title":"Bias (uIU/mL)"}}}}
]},
{"title":"Scatter plot","width":592,"height":588,"layer":[
{"data":{"name":"lines"},"transform":[{"filter":"datum.p===11 && datum.k==='band'"}],"mark":{"type":"rule","color":"#ff5050","strokeWidth":1.3,"clip":true},"encoding":{"x":{"field":"x","type":"quantitative"},"y":{"field":"y","type":"quantitative"},"x2":{"field":"x2"},"y2":{"field":"y2"}}},
{"data":{"name":"lines"},"transform":[{"filter":"datum.p===11 && datum.k!=='band'"}],"mark":{"type":"rule","strokeWidth":1.6,"clip":true},"encoding":{"x":{"field":"x","type":"quantitative"},"y":{"field":"y","type":"quantitative"},"x2":{"field":"x2"},"y2":{"field":"y2"},"color":{"field":"k","type":"nominal","scale":{"domain":["Deming Regr","1:1 line","Med Dec Pt"],"range":["#ff0000","#b0b0b0","#1f3dff"]},"legend":{"title":null}},"strokeDash":{"field":"k","type":"nominal","scale":{"domain":["Deming Regr","1:1 line","Med Dec Pt"],"range":[[5,3],[2,2],[3,2]]},"legend":null}}},
{"data":{"name":"iz"},"mark":{"type":"circle","size":170,"fill":"#0000ff","stroke":"#00002a","strokeWidth":0.8,"opacity":1},"encoding":{"x":{"field":"x","type":"quantitative","scale":{"domain":[-0.3,25.3],"nice":false,"zero":false},"axis":{"values":[0,5,10,15,20,25],"title":"Roche (mIU/L)","labelOffset":{"condition":{"test":"datum.value === 0","value":-36},"value":0}}},"y":{"field":"y","type":"quantitative","scale":{"domain":[-0.3,25.3],"nice":false,"zero":false},"axis":{"values":[0,5,10,15,20,25],"labelExpr":"datum.value === 0 ? '' : datum.label","title":"Izotop (mIU/L)"}}}}
]},
{"title":"Bias plot","width":592,"height":588,"layer":[
{"data":{"name":"lines"},"transform":[{"filter":"datum.p===12 && datum.k==='zero'"}],"mark":{"type":"rule","color":"#000000","strokeWidth":3,"clip":true},"encoding":{"x":{"field":"x","type":"quantitative"},"y":{"field":"y","type":"quantitative"},"x2":{"field":"x2"},"y2":{"field":"y2"}}},
{"data":{"name":"lines"},"transform":[{"filter":"datum.p===12 && datum.k!=='zero'"}],"mark":{"type":"rule","strokeWidth":1.6,"clip":true},"encoding":{"x":{"field":"x","type":"quantitative"},"y":{"field":"y","type":"quantitative"},"x2":{"field":"x2"},"y2":{"field":"y2"},"color":{"field":"k","type":"nominal","scale":{"domain":["Mean bias","Med Dec Pt"],"range":["#333333","#1f3dff"]},"legend":{"title":null}},"strokeDash":{"field":"k","type":"nominal","scale":{"domain":["Mean bias","Med Dec Pt"],"range":[[3,2],[3,2]]},"legend":null}}},
{"data":{"name":"iz"},"mark":{"type":"circle","size":170,"fill":"#0000ff","stroke":"#00002a","strokeWidth":0.8,"opacity":1},"encoding":{"x":{"field":"x","type":"quantitative","scale":{"domain":[-0.3,25.25],"nice":false,"zero":false},"axis":{"values":[0,5,10,15,20,25],"title":"Roche (mIU/L)"}},"y":{"field":"b","type":"quantitative","scale":{"domain":[-3.07,3.07],"nice":false,"zero":false},"axis":{"values":[-3,-2,-1,0,1,2,3],"format":"d","title":"Bias (uIU/mL)"}}}}
]},
{"title":"Scatter plot","width":592,"height":588,"layer":[
{"data":{"name":"lines"},"transform":[{"filter":"datum.p===13 && datum.k==='band'"}],"mark":{"type":"rule","color":"#ff5050","strokeWidth":1.3,"clip":true},"encoding":{"x":{"field":"x","type":"quantitative"},"y":{"field":"y","type":"quantitative"},"x2":{"field":"x2"},"y2":{"field":"y2"}}},
{"data":{"name":"lines"},"transform":[{"filter":"datum.p===13 && datum.k!=='band'"}],"mark":{"type":"rule","strokeWidth":1.6,"clip":true},"encoding":{"x":{"field":"x","type":"quantitative"},"y":{"field":"y","type":"quantitative"},"x2":{"field":"x2"},"y2":{"field":"y2"},"color":{"field":"k","type":"nominal","scale":{"domain":["Deming Regr","1:1 line","Med Dec Pt"],"range":["#ff0000","#b0b0b0","#1f3dff"]},"legend":{"title":null}},"strokeDash":{"field":"k","type":"nominal","scale":{"domain":["Deming Regr","1:1 line","Med Dec Pt"],"range":[[5,3],[2,2],[3,2]]},"legend":null}}},
{"data":{"name":"ria"},"mark":{"type":"circle","size":170,"fill":"#0000ff","stroke":"#00002a","strokeWidth":0.8,"opacity":1},"encoding":{"x":{"field":"x","type":"quantitative","scale":{"domain":[-0.3,26.6],"nice":false,"zero":false},"axis":{"values":[0,5,10,15,20,25],"title":["LM_Roche_SNUBH (uIU/mL)","Roche (mIU/L)"],"titleLineHeight":65,"labelOffset":{"condition":{"test":"datum.value === 0","value":-36},"value":0}}},"y":{"field":"y","type":"quantitative","scale":{"domain":[0,25.2],"nice":false,"zero":false},"axis":{"values":[0,5,10,15,20,25],"labelExpr":"datum.value === 0 ? '' : datum.label","title":"Beckman_RIA (mIU/L)"}}}}
]},
{"title":"Bias plot","width":592,"height":588,"layer":[
{"data":{"name":"lines"},"transform":[{"filter":"datum.p===14 && datum.k==='zero'"}],"mark":{"type":"rule","color":"#000000","strokeWidth":3,"clip":true},"encoding":{"x":{"field":"x","type":"quantitative"},"y":{"field":"y","type":"quantitative"},"x2":{"field":"x2"},"y2":{"field":"y2"}}},
{"data":{"name":"lines"},"transform":[{"filter":"datum.p===14 && datum.k!=='zero'"}],"mark":{"type":"rule","strokeWidth":1.6,"clip":true},"encoding":{"x":{"field":"x","type":"quantitative"},"y":{"field":"y","type":"quantitative"},"x2":{"field":"x2"},"y2":{"field":"y2"},"color":{"field":"k","type":"nominal","scale":{"domain":["Mean bias","Med Dec Pt"],"range":["#333333","#1f3dff"]},"legend":{"title":null}},"strokeDash":{"field":"k","type":"nominal","scale":{"domain":["Mean bias","Med Dec Pt"],"range":[[3,2],[3,2]]},"legend":null}}},
{"data":{"name":"ria"},"mark":{"type":"circle","size":170,"fill":"#0000ff","stroke":"#00002a","strokeWidth":0.8,"opacity":1},"encoding":{"x":{"field":"x","type":"quantitative","scale":{"domain":[-0.35,26.6],"nice":false,"zero":false},"axis":{"values":[0,5,10,15,20,25],"title":["LM_Roche_SNUBH (uIU/mL)","Roche (mIU/L)"],"titleLineHeight":65}},"y":{"field":"b","type":"quantitative","scale":{"domain":[-4.08,4.07],"nice":false,"zero":false},"axis":{"values":[-4,-2,0,2,4],"format":"d","title":"Bias (uIU/mL)"}}}}
]}
]
}
